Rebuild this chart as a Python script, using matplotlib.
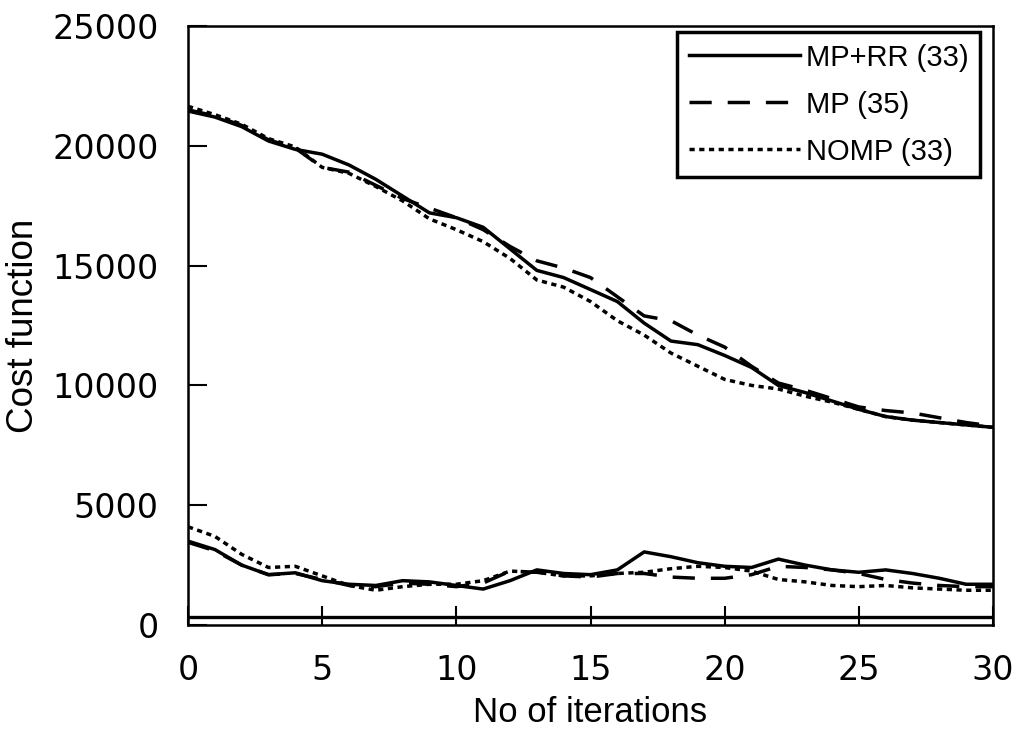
import matplotlib
matplotlib.use("Agg")
import matplotlib.pyplot as plt

iterations = list(range(31))

# upper group of curves
mp_rr_high = [21450, 21200, 20800, 20200, 19850, 19650, 19200, 18600, 17900, 17200,
              17000, 16600, 15700, 14800, 14500, 14000, 13500, 12600, 11850, 11700,
              11250, 10750, 10000, 9700, 9350, 9000, 8700, 8550, 8450, 8350, 8250]
mp_high = [21500, 21250, 20850, 20250, 19900, 19100, 18900, 18350, 17800, 17400,
           17000, 16500, 15800, 15200, 14900, 14500, 13700, 12900, 12700, 12100,
           11600, 10800, 10100, 9800, 9450, 9100, 8950, 8850, 8650, 8450, 8300]
nomp_high = [21650, 21300, 20900, 20300, 19950, 19100, 18850, 18300, 17700, 16950,
             16500, 16000, 15300, 14400, 14100, 13500, 12700, 12100, 11350, 10800,
             10250, 10000, 9850, 9550, 9300, 9000, 8700, 8550, 8450, 8350, 8250]

# lower group of curves
mp_rr_low = [3500, 3150, 2500, 2100, 2180, 1850, 1700, 1650, 1850, 1800,
             1650, 1500, 1850, 2300, 2150, 2100, 2300, 3050, 2850, 2600,
             2450, 2400, 2750, 2500, 2300, 2200, 2300, 2150, 1950, 1700, 1700]
mp_low = [3450, 3100, 2500, 2100, 2150, 1900, 1650, 1600, 1750, 1700,
          1600, 1750, 2250, 2200, 2050, 2000, 2150, 2150, 2000, 1950,
          1950, 2100, 2450, 2400, 2300, 2150, 1900, 1750, 1650, 1600, 1600]
nomp_low = [4100, 3700, 2950, 2400, 2450, 2050, 1650, 1450, 1600, 1700,
            1700, 1850, 2250, 2200, 2050, 2050, 2150, 2200, 2350, 2450,
            2400, 2250, 1900, 1800, 1650, 1600, 1650, 1550, 1500, 1450, 1450]

baseline = 350

labels = ["MP+RR (33)", "MP (35)", "NOMP (33)"]
x_ticks = [0, 5, 10, 15, 20, 25, 30]
y_ticks = [0, 5000, 10000, 15000, 20000, 25000]

fig = plt.figure(figsize=(10.24, 7.35), dpi=100)
ax = fig.add_axes([188 / 1024, 1 - 625 / 735, (993 - 188) / 1024, (625 - 26) / 735])

lw = 2.5
dash = (6.4, 4.6)
dot = (1.5, 1.3)

ax.plot(iterations, mp_rr_high, color="black", lw=lw, label=labels[0])
ax.plot(iterations, mp_high, color="black", lw=lw, dashes=dash, label=labels[1])
ax.plot(iterations, nomp_high, color="black", lw=lw, dashes=dot, label=labels[2])

ax.plot(iterations, mp_rr_low, color="black", lw=lw)
ax.plot(iterations, mp_low, color="black", lw=lw, dashes=dash)
ax.plot(iterations, nomp_low, color="black", lw=lw, dashes=dot)

ax.axhline(baseline, color="black", lw=2.4)

ax.set_xlim(0, 30)
ax.set_ylim(0, 25000)
ax.set_xticks(x_ticks)
ax.set_yticks(y_ticks)
ax.set_xticklabels([str(t) for t in x_ticks], fontfamily="DejaVu Sans", fontsize=24)
ax.set_yticklabels([str(t) for t in y_ticks], fontfamily="DejaVu Sans", fontsize=24)
ax.tick_params(axis="both", direction="in", length=14, width=1.5)
ax.tick_params(axis="x", pad=21)
ax.tick_params(axis="y", pad=21)

for spine in ax.spines.values():
    spine.set_linewidth(1.8)

ax.set_xlabel("No of iterations", fontfamily="Liberation Sans", fontsize=25, labelpad=6)
ax.set_ylabel("Cost function", fontfamily="Liberation Sans", fontsize=26.5, labelpad=8)

leg = ax.legend(loc="upper right", bbox_to_anchor=(980 / 1024, 1 - 32 / 735),
                bbox_transform=fig.transFigure, borderaxespad=0,
                prop={"family": "Liberation Sans", "size": 21},
                handlelength=3.8, handletextpad=0.2, labelspacing=0.65,
                borderpad=0.4, fancybox=False, framealpha=1)
leg.get_frame().set_edgecolor("black")
leg.get_frame().set_linewidth(2.5)

fig.savefig("out.png", dpi=100)
